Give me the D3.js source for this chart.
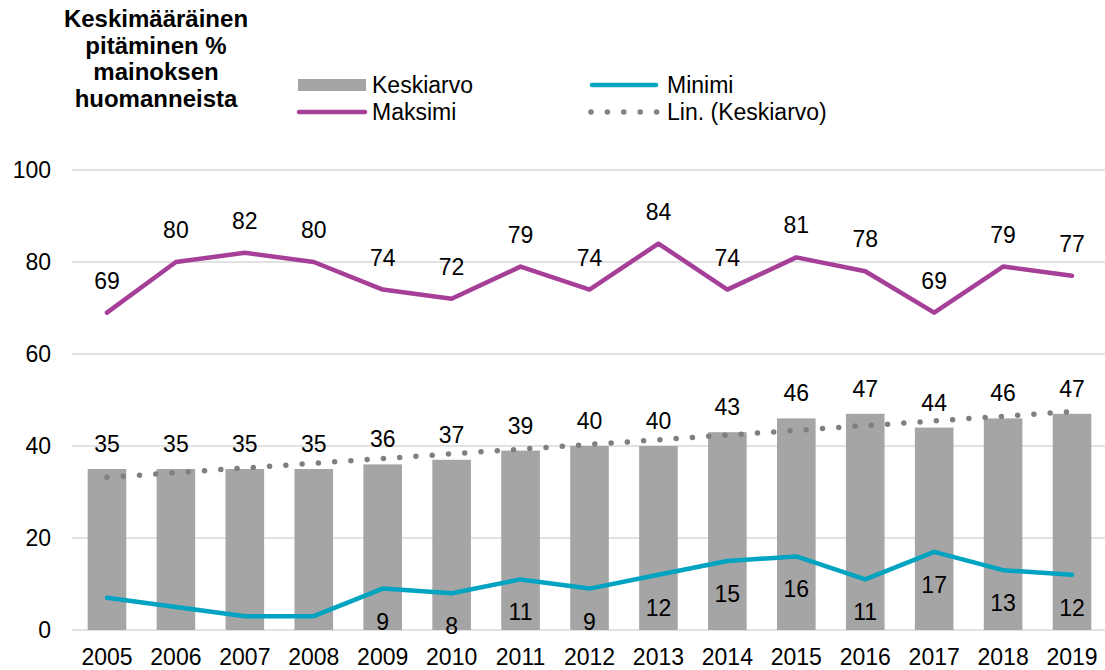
<!DOCTYPE html>
<html>
<head>
<meta charset="utf-8">
<script src="https://cdn.jsdelivr.net/npm/d3@7"></script>
<style>
  body { margin: 0; background: #fff; }
  svg { font-family: "Liberation Sans", Arial, sans-serif; }
</style>
</head>
<body>
<svg id="chart" width="1105" height="670"></svg>
<script>
const years = ["2005","2006","2007","2008","2009","2010","2011","2012","2013","2014","2015","2016","2017","2018","2019"];
const keskiarvo = [35,35,35,35,36,37,39,40,40,43,46,47,44,46,47];
const maksimi = [69,80,82,80,74,72,79,74,84,74,81,78,69,79,77];
const minimi = [7,5,3,3,9,8,11,9,12,15,16,11,17,13,12];
const minimiLabels = [null,null,null,null,9,8,11,9,12,15,16,11,17,13,12];
const yTicks = [0,20,40,60,80,100];
const titleLines = ["Keskimääräinen","pitäminen %","mainoksen","huomanneista"];

const FS = 23;
const svg = d3.select("#chart");
const x = d3.scaleBand().domain(years).range([72.5, 1106.5]).paddingInner(0.44).paddingOuter(0.22);
const y = d3.scaleLinear().domain([0,100]).range([630,170]);
const cx = d => x(d) + x.bandwidth()/2;

// gridlines
svg.append("g").selectAll("line").data(yTicks).join("line")
  .attr("x1", 72).attr("x2", 1105)
  .attr("y1", d => y(d)).attr("y2", d => y(d))
  .attr("stroke", "#d9d9d9").attr("stroke-width", 1.3);

// y axis labels
const yAxis = d3.axisLeft(y).tickValues(yTicks).tickSize(0).tickPadding(0);
const gy = svg.append("g").attr("transform", "translate(51,0)").call(yAxis);
gy.select(".domain").remove();
gy.selectAll("text").attr("font-size", FS).attr("fill", "#000").attr("font-family", "Liberation Sans, Arial, sans-serif");

// x axis labels
const xAxis = d3.axisBottom(x).tickSize(0).tickPadding(0);
const gx = svg.append("g").attr("transform", "translate(0,664.5)").call(xAxis);
gx.select(".domain").remove();
gx.selectAll("text").attr("font-size", FS).attr("fill", "#000").attr("dy", "0").attr("font-family", "Liberation Sans, Arial, sans-serif");

// bars
svg.append("g").selectAll("rect").data(years).join("rect")
  .attr("x", d => x(d)).attr("width", x.bandwidth())
  .attr("y", (d,i) => y(keskiarvo[i])).attr("height", (d,i) => y(0) - y(keskiarvo[i]))
  .attr("fill", "#a5a5a5");

// linear trendline of Keskiarvo
const n = keskiarvo.length;
const idx = d3.range(n);
const mx = d3.mean(idx), my = d3.mean(keskiarvo);
const slope = d3.sum(idx, i => (i-mx)*(keskiarvo[i]-my)) / d3.sum(idx, i => (i-mx)*(i-mx));
const icpt = my - slope*mx;
svg.append("line")
  .attr("x1", cx(years[0])).attr("y1", y(icpt))
  .attr("x2", cx(years[n-1])).attr("y2", y(icpt + slope*(n-1)))
  .attr("stroke", "#7f7f7f").attr("stroke-width", 5.5)
  .attr("stroke-linecap", "round").attr("stroke-dasharray", "0 16.3");

// lines
const line = d3.line().x((d,i) => cx(years[i])).y(d => y(d));
svg.append("path").datum(maksimi).attr("d", line)
  .attr("fill", "none").attr("stroke", "#a63f98").attr("stroke-width", 4.5)
  .attr("stroke-linejoin", "round").attr("stroke-linecap", "round");
svg.append("path").datum(minimi).attr("d", line)
  .attr("fill", "none").attr("stroke", "#00a3c0").attr("stroke-width", 4.5)
  .attr("stroke-linejoin", "round").attr("stroke-linecap", "round");

// labels
const lab = svg.append("g").attr("font-size", FS).attr("fill", "#000").attr("text-anchor", "middle");
lab.selectAll(".lk").data(keskiarvo).join("text").attr("class","lk")
  .attr("x", (d,i) => cx(years[i])).attr("y", d => y(d) - 17).text(d => d);
lab.selectAll(".lm").data(maksimi).join("text").attr("class","lm")
  .attr("x", (d,i) => cx(years[i])).attr("y", d => y(d) - 24).text(d => d);
lab.selectAll(".ln").data(minimiLabels).join("text").attr("class","ln")
  .attr("x", (d,i) => cx(years[i])).attr("y", (d,i) => y(minimi[i]) + 41)
  .text(d => d === null ? "" : d);

// title
svg.append("text").attr("text-anchor", "middle").attr("font-weight", "bold").attr("font-size", 24)
  .selectAll("tspan").data(titleLines).join("tspan")
  .attr("x", 156).attr("y", (d,i) => 27 + i*26.5).text(d => d);

// legend
const lg = svg.append("g").attr("font-size", FS);
lg.append("rect").attr("x", 298).attr("y", 79).attr("width", 68).attr("height", 12).attr("fill", "#a5a5a5");
lg.append("text").attr("x", 372).attr("y", 93).text("Keskiarvo");
lg.append("line").attr("x1", 299).attr("x2", 365).attr("y1", 112).attr("y2", 112)
  .attr("stroke", "#a63f98").attr("stroke-width", 4.5).attr("stroke-linecap", "round");
lg.append("text").attr("x", 372).attr("y", 120).text("Maksimi");
lg.append("line").attr("x1", 592).attr("x2", 656).attr("y1", 85).attr("y2", 85)
  .attr("stroke", "#00a3c0").attr("stroke-width", 4.5).attr("stroke-linecap", "round");
lg.append("text").attr("x", 667).attr("y", 93).text("Minimi");
lg.append("line").attr("x1", 591).attr("x2", 657.5).attr("y1", 112).attr("y2", 112)
  .attr("stroke", "#7f7f7f").attr("stroke-width", 5.5)
  .attr("stroke-linecap", "round").attr("stroke-dasharray", "0 16.4");
lg.append("text").attr("x", 667).attr("y", 120).text("Lin. (Keskiarvo)");
</script>
</body>
</html>
